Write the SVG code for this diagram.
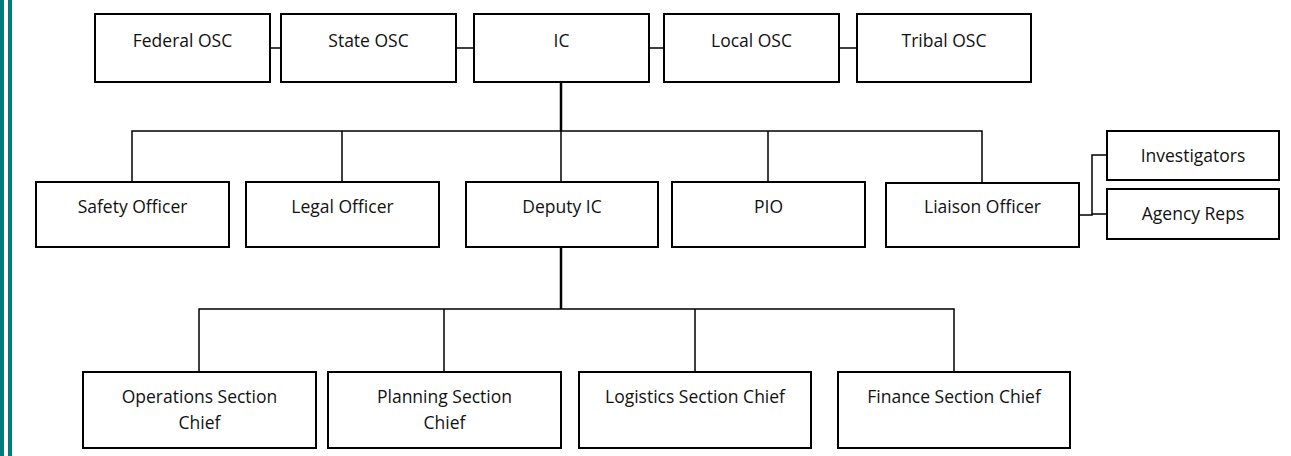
<svg xmlns="http://www.w3.org/2000/svg" width="1291" height="456" viewBox="0 0 1291 456">
<style>
.box{fill:#fff;stroke:#000;stroke-width:2}
.t{font-family:"Open Sans","Liberation Sans",sans-serif;font-size:17.5px;fill:#111;text-anchor:middle}
.c{fill:none;stroke:#000;stroke-width:1.5}
.trunk{fill:none;stroke:#000;stroke-width:2.5}
</style>
<rect width="1291" height="456" fill="#fff"/>
<rect x="0" y="0" width="4" height="456" fill="#007b78"/>
<rect x="8" y="0" width="4" height="456" fill="#007b78"/>
<g id="connectors">
<path class="c" d="M270 48H281M456 48H474M649 48H664M839 48H857"/>
<path class="trunk" d="M561 82V131"/>
<path class="c" d="M132 182V131H982V182M342 131V182M561 131V182M768 131V182"/>
<path class="trunk" d="M561 247V309"/>
<path class="c" d="M199 372V309H954V372M444 309V372M695 309V372"/>
<path class="c" d="M1079 215H1092V155H1107M1092 214H1107"/>
</g>
<g id="federal-osc"><rect class="box" x="95" y="14" width="175" height="68"/><text class="t" x="182.5" y="47">Federal OSC</text></g>
<g id="state-osc"><rect class="box" x="281" y="14" width="175" height="68"/><text class="t" x="368.5" y="47">State OSC</text></g>
<g id="ic"><rect class="box" x="474" y="14" width="175" height="68"/><text class="t" x="561.5" y="47">IC</text></g>
<g id="local-osc"><rect class="box" x="664" y="14" width="175" height="68"/><text class="t" x="751.5" y="47">Local OSC</text></g>
<g id="tribal-osc"><rect class="box" x="857" y="14" width="174" height="68"/><text class="t" x="944" y="47">Tribal OSC</text></g>
<g id="safety-officer"><rect class="box" x="36" y="182" width="193" height="65"/><text class="t" x="132.5" y="213">Safety Officer</text></g>
<g id="legal-officer"><rect class="box" x="246" y="182" width="193" height="65"/><text class="t" x="342.5" y="213">Legal Officer</text></g>
<g id="deputy-ic"><rect class="box" x="466" y="182" width="192" height="65"/><text class="t" x="562" y="213">Deputy IC</text></g>
<g id="pio"><rect class="box" x="672" y="182" width="193" height="65"/><text class="t" x="768.5" y="213">PIO</text></g>
<g id="liaison-officer"><rect class="box" x="886" y="183" width="193" height="64"/><text class="t" x="982.5" y="213">Liaison Officer</text></g>
<g id="investigators"><rect class="box" x="1107" y="131" width="172" height="49"/><text class="t" x="1193" y="162">Investigators</text></g>
<g id="agency-reps"><rect class="box" x="1107" y="189" width="172" height="50"/><text class="t" x="1193" y="220">Agency Reps</text></g>
<g id="operations"><rect class="box" x="83" y="372" width="233" height="76"/><text class="t" x="199.5" y="403">Operations Section</text><text class="t" x="199.5" y="429">Chief</text></g>
<g id="planning"><rect class="box" x="328" y="372" width="233" height="76"/><text class="t" x="444.5" y="403">Planning Section</text><text class="t" x="444.5" y="429">Chief</text></g>
<g id="logistics"><rect class="box" x="579" y="372" width="232" height="76"/><text class="t" x="695" y="403">Logistics Section Chief</text></g>
<g id="finance"><rect class="box" x="838" y="372" width="232" height="76"/><text class="t" x="954" y="403">Finance Section Chief</text></g>
</svg>
